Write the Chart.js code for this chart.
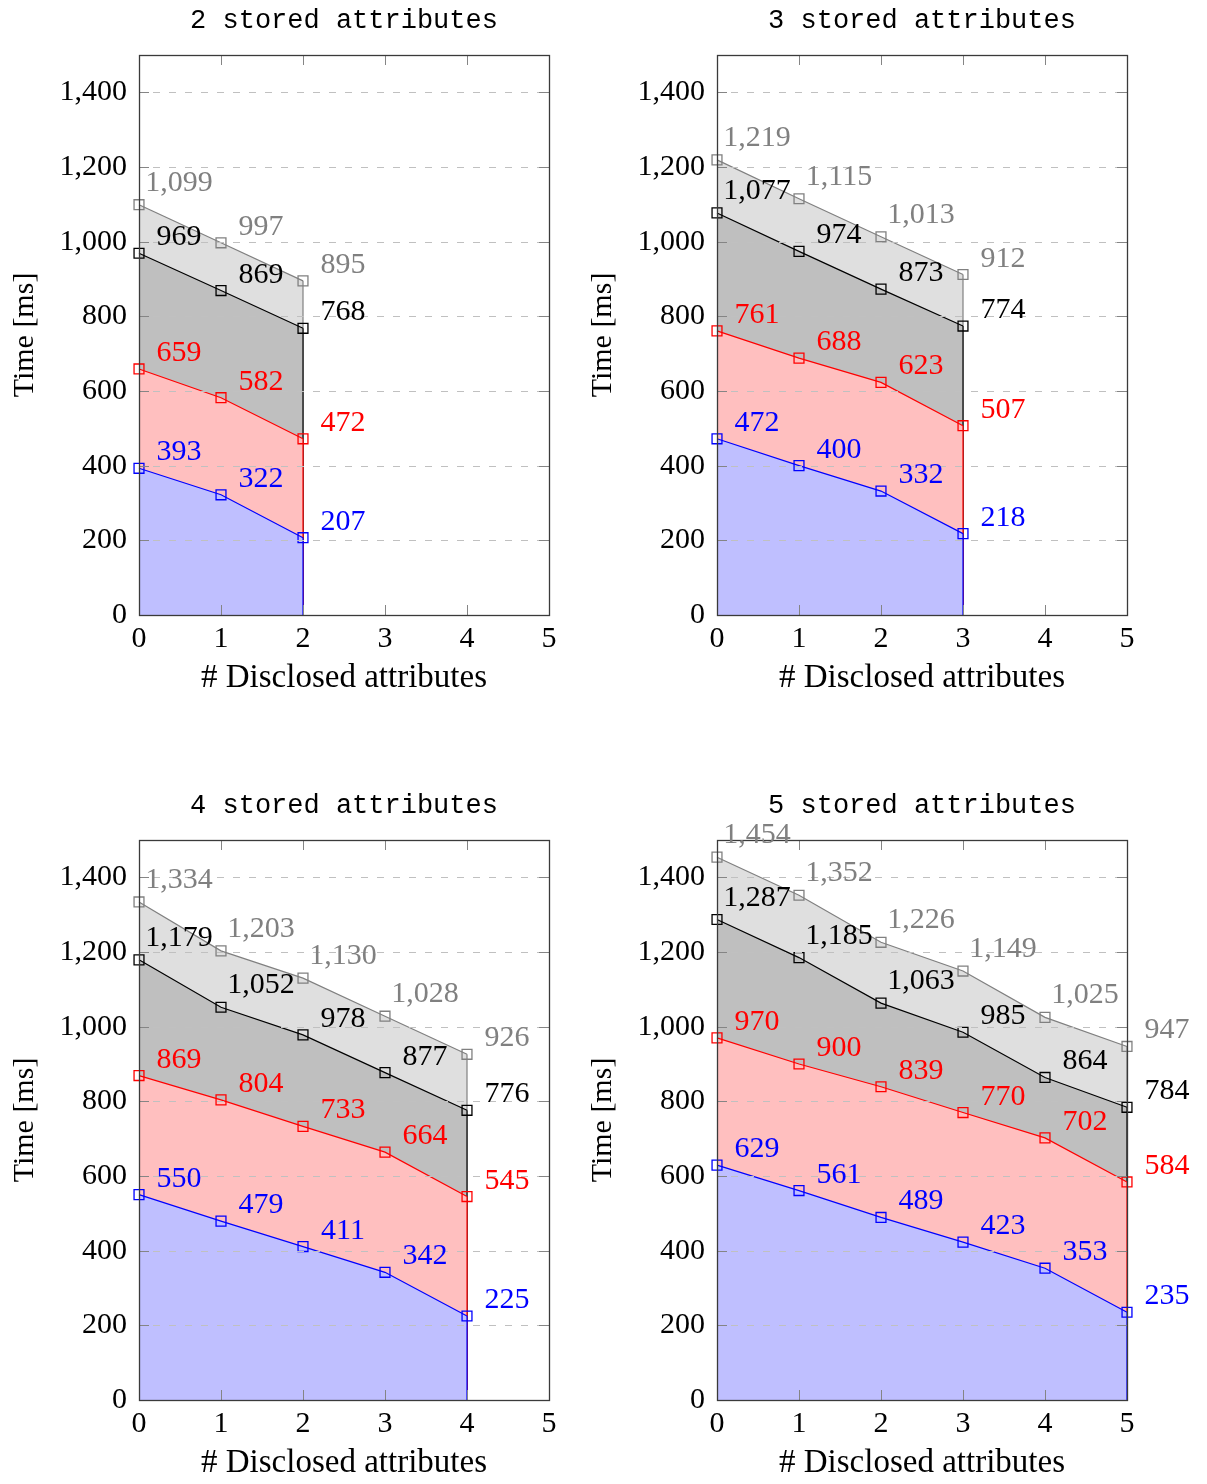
<!DOCTYPE html>
<html>
<head>
<meta charset="utf-8">
<title>Time vs disclosed attributes</title>
<script src="https://cdn.jsdelivr.net/npm/chart.js@4/dist/chart.umd.min.js"></script>
<style>
  html, body { margin: 0; padding: 0; background: #fff; }
  #wrap { position: relative; width: 1207px; height: 1484px; overflow: hidden; }
  canvas { position: absolute; }
</style>
</head>
<body>
<div id="wrap">
  <canvas id="c0" width="578" height="785" style="left:0;top:0"></canvas>
  <canvas id="c1" width="629" height="785" style="left:578px;top:0"></canvas>
  <canvas id="c2" width="578" height="699" style="left:0;top:785px"></canvas>
  <canvas id="c3" width="629" height="699" style="left:578px;top:785px"></canvas>
</div>
<script>
// Number of stored attributes for each panel
const storedCounts = [2, 3, 4, 5];
// Number of disclosed attributes (x axis)
const disclosedCounts = [0, 1, 2, 3, 4, 5];
const xTickValues = [0, 1, 2, 3, 4, 5];
const yTickValues = [0, 200, 400, 600, 800, 1000, 1200, 1400];

// Timings in ms, one row per panel (2, 3, 4, 5 stored attributes)
const blueTimes = [
  [393, 322, 207],
  [472, 400, 332, 218],
  [550, 479, 411, 342, 225],
  [629, 561, 489, 423, 353, 235]
];
const redTimes = [
  [659, 582, 472],
  [761, 688, 623, 507],
  [869, 804, 733, 664, 545],
  [970, 900, 839, 770, 702, 584]
];
const blackTimes = [
  [969, 869, 768],
  [1077, 974, 873, 774],
  [1179, 1052, 978, 877, 776],
  [1287, 1185, 1063, 985, 864, 784]
];
const grayTimes = [
  [1099, 997, 895],
  [1219, 1115, 1013, 912],
  [1334, 1203, 1130, 1028, 926],
  [1454, 1352, 1226, 1149, 1025, 947]
];

const SERIF = "'Liberation Serif', 'DejaVu Serif', serif";
const MONO = "'Liberation Mono', 'DejaVu Sans Mono', monospace";
Chart.defaults.font.family = SERIF;
Chart.defaults.color = '#000';

const fmt = v => Number(v).toLocaleString('en-US');

// Axis frame, inward ticks, dashed grid, closing edges and value labels
const decor = {
  id: 'decor',
  afterDatasetDraw(chart, args) {
    const ctx = chart.ctx;
    const ds = chart.data.datasets[args.index];
    const pts = args.meta.data;
    const last = pts[pts.length - 1];
    const y0 = chart.scales.y.getPixelForValue(0);
    ctx.save();
    ctx.strokeStyle = ds.borderColor;
    ctx.lineWidth = ds.borderWidth;
    ctx.beginPath();
    ctx.moveTo(last.x, last.y);
    ctx.lineTo(last.x, y0);
    ctx.stroke();
    ctx.restore();
  },
  afterDatasetsDraw(chart) {
    const { ctx, chartArea: a, scales: { x, y } } = chart;
    const TL = 10;
    ctx.save();
    ctx.lineWidth = 1;
    y.ticks.forEach(t => {
      if (t.value <= 0) return;
      const py = Math.round(y.getPixelForValue(t.value)) + 0.5;
      ctx.setLineDash([7, 9]);
      ctx.strokeStyle = '#c0c0c0';
      ctx.beginPath();
      ctx.moveTo(a.left + TL + 4, py);
      ctx.lineTo(a.right - TL, py);
      ctx.stroke();
      ctx.setLineDash([]);
      ctx.strokeStyle = '#858585';
      ctx.beginPath();
      ctx.moveTo(a.left, py); ctx.lineTo(a.left + TL, py);
      ctx.moveTo(a.right - TL, py); ctx.lineTo(a.right, py);
      ctx.stroke();
    });
    ctx.strokeStyle = '#858585';
    x.ticks.forEach(t => {
      const px = Math.round(x.getPixelForValue(t.value)) + 0.5;
      ctx.beginPath();
      ctx.moveTo(px, a.bottom); ctx.lineTo(px, a.bottom - TL);
      ctx.moveTo(px, a.top); ctx.lineTo(px, a.top + TL);
      ctx.stroke();
    });
    ctx.strokeStyle = '#3a3a3a';
    ctx.lineWidth = 1.3;
    ctx.strokeRect(Math.round(a.left) + 0.5, Math.round(a.top) + 0.5,
                   Math.round(a.right - a.left), Math.round(a.bottom - a.top));
    ctx.restore();
  },
  afterDraw(chart) {
    const ctx = chart.ctx;
    ctx.save();
    ctx.font = '30px ' + SERIF;
    ctx.textAlign = 'center';
    ctx.textBaseline = 'alphabetic';
    for (let i = chart.data.datasets.length - 1; i >= 0; i--) {
      const ds = chart.data.datasets[i];
      const meta = chart.getDatasetMeta(i);
      ctx.fillStyle = ds.borderColor;
      meta.data.forEach((p, j) => {
        const txt = fmt(ds.data[j].y);
        const lift = txt.includes(',') ? 14 : 8;
        ctx.fillText(txt, p.x + 40, p.y - lift);
      });
    }
    ctx.restore();
  }
};

function buildChart(idx) {
  const canvas = document.getElementById('c' + idx);
  const n = storedCounts[idx] + 1;
  const xs = disclosedCounts.slice(0, n);
  const toPoints = arr => arr.map((v, i) => ({ x: xs[i], y: v }));
  const series = [
    { values: blueTimes[idx], line: '#0000ff', fill: '#bfbfff' },
    { values: redTimes[idx], line: '#ff0000', fill: '#ffbfbf' },
    { values: blackTimes[idx], line: '#000000', fill: '#bfbfbf' },
    { values: grayTimes[idx], line: '#808080', fill: '#dfdfdf' }
  ];
  const datasets = series.map(s => ({
    data: toPoints(s.values),
    borderColor: s.line,
    backgroundColor: s.fill,
    borderWidth: 1.2,
    fill: 'origin',
    tension: 0,
    clip: false,
    pointStyle: 'rect',
    pointRadius: 7,
    pointBorderWidth: 1.3,
    pointBorderColor: s.line,
    pointBackgroundColor: 'rgba(0,0,0,0)'
  }));

  return new Chart(canvas, {
    type: 'line',
    data: { datasets },
    plugins: [decor],
    options: {
      responsive: false,
      animation: false,
      devicePixelRatio: 1,
      layout: {
        padding: { left: 0, top: 0, right: canvas.width - 549, bottom: canvas.height - 699 }
      },
      plugins: {
        legend: { display: false },
        tooltip: { enabled: false },
        title: {
          display: true,
          fullSize: false,
          text: storedCounts[idx] + ' stored attributes',
          font: { family: MONO, size: 27, weight: 'normal' },
          color: '#000',
          padding: { top: 5, bottom: 17.6 }
        }
      },
      scales: {
        x: {
          type: 'linear',
          min: 0,
          max: 5,
          afterBuildTicks: s => { s.ticks = xTickValues.map(v => ({ value: v })); },
          afterFit: s => { s.height = 84; },
          grid: { display: false },
          border: { display: false },
          ticks: { font: { size: 30 }, color: '#000', padding: -2, callback: v => fmt(v) },
          title: {
            display: true,
            text: '# Disclosed attributes',
            font: { size: 33 },
            color: '#000',
            padding: { top: 0, bottom: 1 }
          }
        },
        y: {
          type: 'linear',
          min: 0,
          max: 1500,
          afterBuildTicks: s => { s.ticks = yTickValues.map(v => ({ value: v })); },
          afterFit: s => { s.width = 139; },
          grid: { display: false },
          border: { display: false },
          ticks: { font: { size: 30 }, color: '#000', padding: 4, callback: v => fmt(v) },
          title: {
            display: true,
            text: 'Time [ms]',
            font: { size: 30 },
            color: '#000',
            padding: { top: 7, bottom: 0 }
          }
        }
      }
    }
  });
}

[0, 1, 2, 3].forEach(buildChart);
</script>
</body>
</html>
